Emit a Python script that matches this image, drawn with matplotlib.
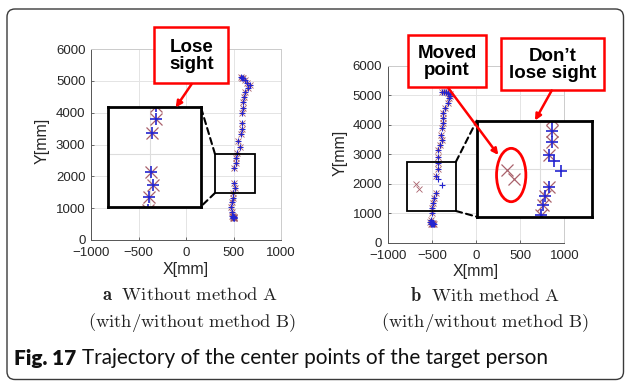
import matplotlib.pyplot as plt
from matplotlib.patches import Rectangle, Ellipse, FancyBboxPatch, FancyArrowPatch, ConnectionPatch

plt.rcParams['font.family'] = ['Liberation Sans', 'DejaVu Sans']
plt.rcParams['mathtext.fontset'] = 'cm'

# ---- datos (mm) ----
x_ticks = [-1000, -500, 0, 500, 1000]
y_ticks = [0, 1000, 2000, 3000, 4000, 5000, 6000]

# (a) sin metodo A: con y sin metodo B coinciden
left_x = [575, 585, 595, 621, 645, 674, 656, 621, 614, 603, 597, 593, 586, 586, 576, 550, 568,
          534, 526, 526, 508, 505, 516, 498, 492, 481, 474, 481, 498, 490, 500, 505, 495, 510, 485, 500]
left_y = [5120, 5100, 5085, 5026, 4922, 4869, 4765, 4658, 4501, 4344, 4137, 3980, 3666, 3477, 3320, 3110, 2931,
          2723, 2585, 2428, 2252, 1781, 1624, 1467, 1310, 1203, 1046, 889, 763, 730, 710, 690, 680, 700, 750, 720]

# (b) con metodo A: tramo comun
right_top_x = [-380, -360, -340, -320, -300, -295, -303, -321, -351, -371, -377, -371, -389,
               -397, -389, -408, -427, -434, -434, -434, -453]
right_top_y = [5120, 5110, 5100, 5080, 5040, 4973, 4895, 4726, 4556, 4387, 4217, 4048, 3878,
               3651, 3482, 3312, 3143, 2915, 2692, 2488, 2261]
right_bot_x = [-453, -472, -484, -495, -495, -513, -502, -520, -500, -485, -470, -510, -490]
right_bot_y = [1675, 1505, 1336, 1166, 997, 770, 658, 700, 620, 640, 620, 640, 660]
# puntos que difieren: '+' sigue al objetivo, 'x' se desplaza
right_kept_x = [-427, -389]
right_kept_y = [2149, 1956]
right_moved_x = [-683, -646]
right_moved_y = [1980, 1810]

W, H = 625, 381
fig = plt.figure(figsize=(W / 100, H / 100), dpi=100)


def px_rect(x0, y0, x1, y1):
    # caja en pixeles (origen arriba a la izquierda) -> fraccion de figura
    return [x0 / W, 1 - y1 / H, (x1 - x0) / W, (y1 - y0) / H]


ax_a = fig.add_axes(px_rect(91, 49, 281, 240))
ax_b = fig.add_axes(px_rect(387.7, 65.7, 564.3, 242.7))
in_a = fig.add_axes(px_rect(107.7, 106.7, 200.7, 206.7), zorder=3)
in_b = fig.add_axes(px_rect(476.7, 120.7, 591.7, 216.7), zorder=3)
ov = fig.add_axes([0, 0, 1, 1], zorder=5)
ov.set_xlim(0, W)
ov.set_ylim(H, 0)
ov.axis('off')
ov.patch.set_alpha(0)

plus_color = '#2424d0'
cross_color = '#a0505c'


def draw_track(ax, px_, py_, cx, cy, ms, mew):
    ax.plot(cx, cy, ls='none', marker='x', ms=ms * 0.95, mew=mew * 0.75, color=cross_color, alpha=0.9)
    ax.plot(px_, py_, ls='none', marker='+', ms=ms, mew=mew, color=plus_color)


def style_main(ax, xl, yl):
    ax.set_xlim(-1000, 1000)
    ax.set_ylim(0, 6000)
    ax.set_xticks(x_ticks)
    ax.set_yticks(y_ticks)
    ax.grid(True, color='#e4e4e4', lw=0.7)
    ax.set_axisbelow(True)
    for s in ['left', 'bottom']:
        ax.spines[s].set_color('#555555')
        ax.spines[s].set_linewidth(0.7)
    for s in ['top', 'right']:
        ax.spines[s].set_color('#cccccc')
        ax.spines[s].set_linewidth(0.7)
    ax.tick_params(direction='in', length=2.5, width=0.6, color='#555555',
                   labelsize=9.5, labelcolor='#262626')
    ax.tick_params(axis='y', pad=4)
    ax.tick_params(axis='x', pad=5)
    ax.set_xlabel('X[mm]', fontsize=11.5, color='#262626')
    ax.set_ylabel('Y[mm]', fontsize=11.5, color='#262626')
    ax.xaxis.set_label_coords(*xl)
    ax.xaxis.label.set_verticalalignment('center')
    ax.yaxis.set_label_coords(*yl)
    ax.yaxis.label.set_verticalalignment('center')


def style_inset(ax, xlim, ylim, gx, gy):
    ax.set_xlim(*xlim)
    ax.set_ylim(*ylim)
    ax.set_xticks([gx])
    ax.set_yticks([gy])
    ax.grid(True, color='#dddddd', lw=0.8)
    ax.set_axisbelow(True)
    ax.tick_params(length=0, labelbottom=False, labelleft=False)
    for s in ax.spines.values():
        s.set_color('black')
        s.set_linewidth(2)


# ---- (a) ----
style_main(ax_a, (0.5, -0.155), (-0.259, 0.52))
draw_track(ax_a, left_x, left_y, left_x, left_y, 4, 0.8)
ax_a.add_patch(Rectangle((305, 1476), 418, 1226, fill=False, ec='black', lw=1.3, zorder=4))
style_inset(in_a, (310, 730), (1353, 2579), 500, 2000)
draw_track(in_a, left_x, left_y, left_x, left_y, 8.5, 1.2)

# ---- (b) ----
rp_x = right_top_x + right_kept_x + right_bot_x
rp_y = right_top_y + right_kept_y + right_bot_y
rc_x = right_top_x + right_moved_x + right_bot_x
rc_y = right_top_y + right_moved_y + right_bot_y
style_main(ax_b, (0.5, -0.165), (-0.27, 0.51))
draw_track(ax_b, rp_x, rp_y, rc_x, rc_y, 4, 0.8)
ax_b.add_patch(Rectangle((-785, 1075), 558, 1671, fill=False, ec='black', lw=1.3, zorder=4))
style_inset(in_b, (-850, -218), (1130, 2880), -500, 2000)
draw_track(in_b, rp_x, rp_y, rc_x, rc_y, 8.5, 1.2)
in_b.add_patch(Ellipse((0.30, 0.434), 0.255, 0.556, transform=in_b.transAxes,
                       fill=False, ec='red', lw=2, clip_on=False))

# lineas discontinuas entre zona ampliada y recuadro
dash = dict(ls=(0, (3, 2)), lw=1.5, color='black')
for xa, xb in [((305, 2702), (1, 1)), ((305, 1476), (1, 0))]:
    fig.add_artist(ConnectionPatch(xyA=xa, coordsA=ax_a.transData, xyB=xb, coordsB=in_a.transAxes, **dash))
for xa, xb in [((-227, 2746), (0, 1)), ((-227, 1075), (0, 0))]:
    fig.add_artist(ConnectionPatch(xyA=xa, coordsA=ax_b.transData, xyB=xb, coordsB=in_b.transAxes, **dash))

# ---- llamadas en rojo ----
callouts = [((154.3, 26.7, 228.3, 83.3), 'Lose\nsight'),
            ((408.3, 35, 486, 86.7), 'Moved\npoint'),
            ((501, 38.3, 604, 90), 'Don’t\nlose sight')]
for (x0, y0, x1, y1), txt in callouts:
    ov.add_patch(Rectangle((x0, y0), x1 - x0, y1 - y0, fc='white', ec='red', lw=1.8))
    ov.text((x0 + x1) / 2, (y0 + y1) / 2 + 1, txt, ha='center', va='center', fontsize=13.5,
            fontweight='bold', family=['Liberation Sans', 'DejaVu Sans'], linespacing=1.05)

arrows = [((191.7, 84), (175.7, 107.5)),
          ((448.3, 88), (498.3, 155)),
          ((551.7, 90.5), (535, 120.5))]
for a, b in arrows:
    ov.add_patch(FancyArrowPatch(a, b, arrowstyle='-|>', mutation_scale=9, color='red',
                                 lw=1.8, shrinkA=0, shrinkB=0))

# marco redondeado
ov.add_patch(FancyBboxPatch((7, 9), 616.5, 370.5, boxstyle='round,pad=0,rounding_size=8',
                            fill=False, ec='#3a3a3a', lw=1))

# ---- leyendas inferiores ----
renderer = fig.canvas.get_renderer()


def fit_width(t, width_px):
    w = t.get_window_extent(renderer).width
    t.set_fontsize(t.get_fontsize() * width_px / w)
    return t.get_fontsize()


cap = dict(ha='center', va='center', fontsize=13, color='#222222')
l2a = ov.text(192, 323, r'$\mathrm{(with/without\ method\ B)}$', **cap)
fs = fit_width(l2a, 208)
l2b = ov.text(485, 323, r'$\mathrm{(with/without\ method\ B)}$', **cap)
l2b.set_fontsize(fs)
l1a = ov.text(190, 296, r'$\mathbf{a}\ \ \mathrm{Without\ method\ A}$', **cap)
l1a.set_fontsize(fs)
l1b = ov.text(485, 296, r'$\mathbf{b}\ \ \mathrm{With\ method\ A}$', **cap)
l1b.set_fontsize(fs)

fig_t = ov.text(82, 358, 'Trajectory of the center points of the target person', ha='left',
                va='center', fontsize=13, family='Lato', color='#111111')
fs2 = fit_width(fig_t, 466)
ov.text(14, 358, 'Fig. 17', ha='left', va='center', fontsize=fs2, family='Lato',
        fontweight='heavy', color='#111111')

fig.savefig('out.png', dpi=100)
